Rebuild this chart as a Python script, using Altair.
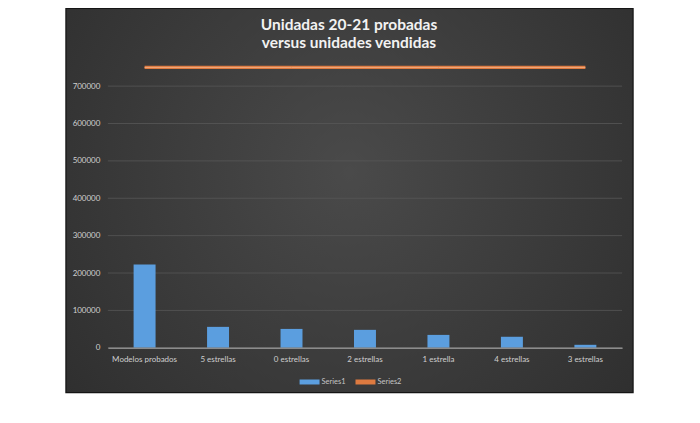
import altair as alt
import pandas as pd

# ---- data ----
categorias = ["Modelos probados", "5 estrellas", "0 estrellas", "2 estrellas",
              "1 estrella", "4 estrellas", "3 estrellas"]
series1 = [223000, 56000, 50500, 48000, 34500, 29500, 8000]
series2 = [750000, 750000, 750000, 750000, 750000, 750000, 750000]
y_ticks = [0, 100000, 200000, 300000, 400000, 500000, 600000, 700000]
serie_names = ["Series1", "Series2"]

df = pd.DataFrame({"categoria": categorias, "Series1": series1, "Series2": series2})
grid_df = pd.DataFrame({"v": y_ticks})
panel_df = pd.DataFrame({"p": [1]})

FONT = "Lato"
BLUE = "#5b9edf"
ORANGE = "#dd7a40"

x_enc = alt.X("categoria:N", sort=categorias,
              scale=alt.Scale(paddingInner=0, paddingOuter=0),
              axis=alt.Axis(title=None, labelAngle=0, ticks=False, labelFontSize=8,
                            labelColor="#cfcfcf", labelPadding=8, labelFont=FONT,
                            domainColor="#8c8c8c", domainWidth=1.5, zindex=1))
y_scale = alt.Scale(domain=[0, 780000])

panel = alt.Chart(panel_df).mark_rect(
    fill=alt.RadialGradient(
        gradient="radial",
        stops=[alt.GradientStop(offset=0, color="#4a4a4a"),
               alt.GradientStop(offset=1, color="#282828")],
        x1=0.5, y1=0.45, r1=0, x2=0.5, y2=0.45, r2=0.8),
    stroke="#151515", strokeWidth=1.2
).encode(x=alt.value(-42), x2=alt.value(526), y=alt.value(-48), y2=alt.value(337))

grid = alt.Chart(grid_df).mark_rule(color="#575757", strokeWidth=0.8).encode(
    y=alt.Y("v:Q", scale=y_scale,
            axis=alt.Axis(title=None, values=y_ticks, format="d", grid=False, ticks=False,
                          domain=False, labelFontSize=8, labelColor="#d0d0d0",
                          labelPadding=8, labelFont=FONT, zindex=1))
)

bars = alt.Chart(df).transform_calculate(serie="'Series1'").mark_bar(size=22).encode(
    x=x_enc,
    y=alt.Y("Series1:Q", scale=y_scale),
    color=alt.Color("serie:N",
                    scale=alt.Scale(domain=serie_names, range=[BLUE, ORANGE]),
                    legend=alt.Legend(title=None, orient="none", direction="horizontal",
                                      legendX=192, legendY=316, padding=0,
                                      symbolType="M-1,-0.25H1V0.25H-1Z", symbolSize=400,
                                      symbolStrokeWidth=0, labelFontSize=7.5,
                                      labelColor="#c4c4c4", labelFont=FONT,
                                      labelOffset=2, columnPadding=9))
)

line = alt.Chart(df).mark_line(color=ORANGE, strokeWidth=3.2).encode(
    x=alt.X("categoria:N", sort=categorias),
    y=alt.Y("Series2:Q", scale=y_scale)
)
line_hi = alt.Chart(df).mark_line(color="#f0a97c", strokeWidth=1).encode(
    x=alt.X("categoria:N", sort=categorias),
    y=alt.Y("Series2:Q", scale=y_scale)
)

chart = alt.layer(panel, grid, bars, line, line_hi).properties(
    width=515, height=292,
    title=alt.TitleParams(["Unidadas 20-21 probadas", "versus unidades vendidas"],
                          font=FONT, fontSize=15.5, fontWeight="bold", color="#f2f2f2",
                          anchor="middle", frame="group", dx=-16, dy=48, offset=4,
                          lineHeight=18),
    padding={"left": 100, "top": 48, "right": 70, "bottom": 52},
    autosize=alt.AutoSizeParams(type="none"),
).configure(background="white").configure_view(stroke=None)

chart.save("out.html", embed_options={"renderer": "svg", "actions": False})
